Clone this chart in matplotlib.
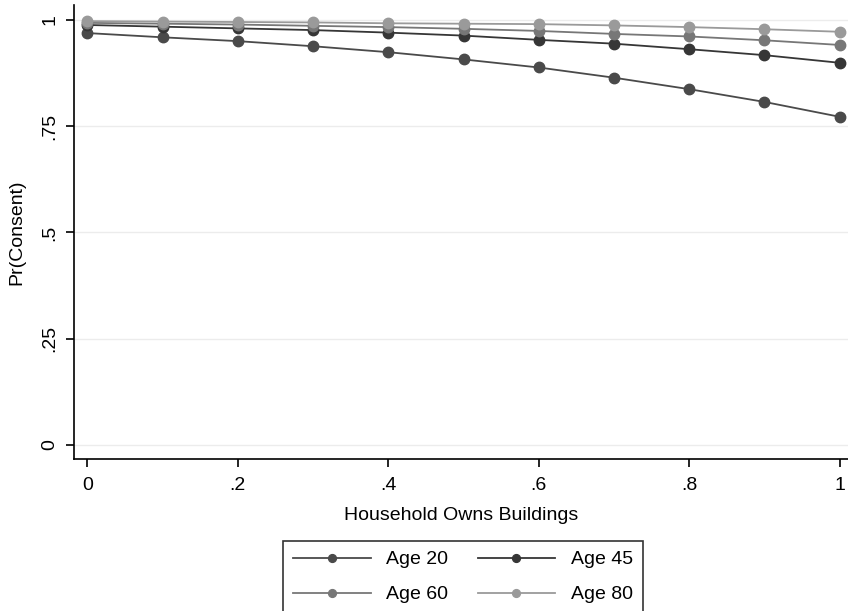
import matplotlib
matplotlib.use("Agg")
import matplotlib.pyplot as plt

plt.rcParams["font.family"] = ["Liberation Sans", "DejaVu Sans"]

# share of household owning buildings
owns = [0.0, 0.1, 0.2, 0.3, 0.4, 0.5, 0.6, 0.7, 0.8, 0.9, 1.0]

# predicted Pr(Consent) by age
age20 = [0.969, 0.959, 0.950, 0.938, 0.924, 0.907, 0.888, 0.864, 0.837, 0.807, 0.772]
age45 = [0.988, 0.984, 0.980, 0.976, 0.970, 0.963, 0.953, 0.944, 0.931, 0.917, 0.899]
age60 = [0.993, 0.991, 0.989, 0.986, 0.983, 0.979, 0.974, 0.967, 0.961, 0.952, 0.941]
age80 = [0.997, 0.996, 0.995, 0.994, 0.992, 0.991, 0.990, 0.987, 0.983, 0.978, 0.972]

series = [
    ("Age 20", age20, "#4a4a4a"),
    ("Age 45", age45, "#363636"),
    ("Age 60", age60, "#777777"),
    ("Age 80", age80, "#9a9a9a"),
]

yticks = [0, 0.25, 0.5, 0.75, 1]
ytick_labels = ["0", ".25", ".5", ".75", "1"]
xticks = [0, 0.2, 0.4, 0.6, 0.8, 1]
xtick_labels = ["0", ".2", ".4", ".6", ".8", "1"]

fig = plt.figure(figsize=(8.48, 6.11), dpi=100)
ax = fig.add_axes([74 / 848, 152 / 611, 774 / 848, 454 / 611])

for label, vals, col in series:
    ax.plot(owns, vals, color=col, lw=1.3, marker="o", ms=7.5,
            markerfacecolor=col, markeredgecolor=col, label=label)

ax.set_xlim(-0.0177, 1.011)
ax.set_ylim(-0.033, 1.035)
ax.set_yticks(yticks)
ax.set_yticklabels(ytick_labels, rotation=90, va="center")
ax.set_xticks(xticks)
ax.set_xticklabels(xtick_labels)
ax.tick_params(axis="both", labelsize=14, length=6, width=1.2, direction="out",
               color="black")
ax.tick_params(axis="x", pad=7)
ax.tick_params(axis="y", pad=5)
ax.grid(True, axis="y", color="#ececec", lw=1)
ax.set_axisbelow(True)
for side in ("top", "right"):
    ax.spines[side].set_visible(False)
for side in ("left", "bottom"):
    ax.spines[side].set_linewidth(1.2)

ax.set_xlabel("Household Owns Buildings", fontsize=14, labelpad=9)
ax.set_ylabel("Pr(Consent)", fontsize=14, labelpad=12)

# legend filled row by row: Age 20, Age 45 / Age 60, Age 80
handles, labels = ax.get_legend_handles_labels()
order = [0, 2, 1, 3]
leg = fig.legend([handles[i] for i in order], [labels[i] for i in order],
                 loc="upper center", ncol=2,
                 bbox_to_anchor=(463 / 848, 70 / 611), borderaxespad=0,
                 fontsize=14, frameon=True, fancybox=False, edgecolor="black",
                 handlelength=4, handletextpad=0.8, columnspacing=1.5,
                 markerscale=0.75, borderpad=0.5, labelspacing=0.9)
leg.get_frame().set_linewidth(1.2)

fig.savefig("out.png", dpi=100)
